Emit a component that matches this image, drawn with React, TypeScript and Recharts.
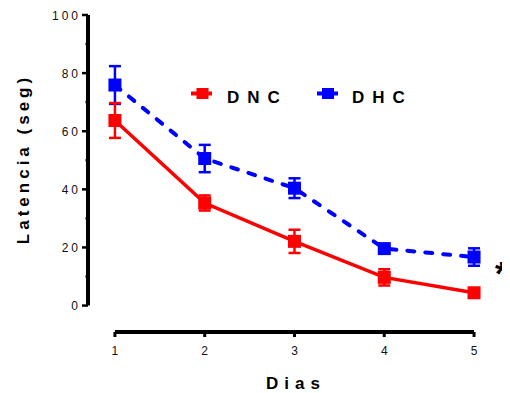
import { LineChart, Line, XAxis, YAxis, ErrorBar, ReferenceLine, Legend } from "recharts";

const days = [1, 2, 3, 4, 5];
const dnc = [63.7, 35.3, 22.1, 9.7, 4.4];
const dncErr = [6, 2.6, 4, 2.8, 0.8];
const dhc = [75.9, 50.6, 40.4, 19.6, 16.7];
const dhcErr = [6.5, 4.7, 3.4, 0.8, 3];
const yTicks = [0, 10, 20, 30, 40, 50, 60, 70, 80, 90, 100];

const data = days.map((d, i) => ({
  day: d,
  dnc: dnc[i],
  dncErr: dncErr[i],
  dhc: dhc[i],
  dhcErr: dhcErr[i],
}));

const FONT = "'Liberation Sans', Arial, sans-serif";
const RED = "#ff0000";
const BLUE = "#0000ff";

const square = (color: string) => (p: any) => (
  <rect
    key={`sq-${color}-${p.index}`}
    x={p.cx - 6.5}
    y={p.cy - 6.5}
    width={13}
    height={13}
    fill={color}
  />
);

function YTick({ x, y, payload }: any) {
  const major = payload.value % 20 === 0;
  return (
    <g>
      <line x1={x - (major ? 6 : 2.5)} x2={x} y1={y} y2={y} stroke="#000" strokeWidth={2.5} />
      {major && (
        <text x={x - 7} y={y} dy={4.5} textAnchor="end" fontSize={12} letterSpacing={3} fill="#111" fontFamily={FONT}>
          {payload.value}
        </text>
      )}
    </g>
  );
}

function XTick({ x, y, payload }: any) {
  return (
    <g>
      <line x1={x} x2={x} y1={y} y2={y + 5} stroke="#000" strokeWidth={3} />
      <text x={x} y={y + 23} textAnchor="middle" fontSize={12} fill="#111" fontFamily={FONT}>
        {payload.value}
      </text>
    </g>
  );
}

function YLabel() {
  return (
    <text
      x={15}
      y={151}
      transform="rotate(-90, 15, 151)"
      textAnchor="middle"
      dominantBaseline="central"
      fontSize={17}
      fontWeight="bold"
      letterSpacing={4}
      fill="#000"
      fontFamily={FONT}
    >
      Latencia (seg)
    </text>
  );
}

function XLabel() {
  return (
    <text x={288} y={381} textAnchor="middle" fontSize={17} fontWeight="bold" letterSpacing={6} fill="#000" fontFamily={FONT}>
      Dias
    </text>
  );
}

function LegendBox() {
  return (
    <svg width={240} height={30}>
      <line x1={1} x2={22} y1={13.5} y2={13.5} stroke={RED} strokeWidth={4} />
      <rect x={6.5} y={8} width={12} height={11} fill={RED} />
      <text x={37} y={22.7} fontSize={17} fontWeight="bold" letterSpacing={8} fill="#000" fontFamily={FONT}>
        DNC
      </text>
      <line x1={127} x2={148} y1={13.5} y2={13.5} stroke={BLUE} strokeWidth={4} />
      <rect x={132} y={8} width={12} height={11} fill={BLUE} />
      <text x={162} y={22.7} fontSize={17} fontWeight="bold" letterSpacing={8} fill="#000" fontFamily={FONT}>
        DHC
      </text>
    </svg>
  );
}

export default function App() {
  return (
    <div style={{ position: "relative", width: 502, height: 385 }}>
      <LineChart width={502} height={385} data={data} margin={{ top: 7, right: 18, bottom: 0, left: 0 }}>
        <XAxis
          type="number"
          dataKey="day"
          domain={[0.7, 5.2]}
          ticks={days}
          axisLine={false}
          tickLine={false}
          tickSize={0}
          tickMargin={0}
          height={61}
          tick={<XTick />}
          label={<XLabel />}
        />
        <YAxis
          type="number"
          domain={[-9.1, 100]}
          ticks={yTicks}
          interval={0}
          axisLine={false}
          tickLine={false}
          tickSize={0}
          tickMargin={0}
          width={80}
          tick={<YTick />}
          label={<YLabel />}
        />
        <ReferenceLine
          segment={[{ x: 0.7, y: 0 }, { x: 0.7, y: 100 }]}
          stroke="#000"
          strokeWidth={4}
          ifOverflow="visible"
        />
        <ReferenceLine
          segment={[{ x: 1, y: -9.1 }, { x: 5, y: -9.1 }]}
          stroke="#000"
          strokeWidth={4}
          ifOverflow="visible"
        />
        <Legend
          layout="horizontal"
          verticalAlign="middle"
          align="center"
          content={<LegendBox />}
          wrapperStyle={{ position: "absolute", top: 72, left: 182, width: 240, height: 30 }}
        />
        <Line
          dataKey="dhc"
          stroke={BLUE}
          strokeWidth={4}
          strokeDasharray="7 11"
          strokeLinecap="round"
          dot={square(BLUE)}
          activeDot={false}
          isAnimationActive={false}
        >
          <ErrorBar dataKey="dhcErr" width={6} stroke={BLUE} strokeWidth={2.5} direction="y" />
        </Line>
        <Line
          dataKey="dnc"
          stroke={RED}
          strokeWidth={3.5}
          dot={square(RED)}
          activeDot={false}
          isAnimationActive={false}
        >
          <ErrorBar dataKey="dncErr" width={6} stroke={RED} strokeWidth={2.5} direction="y" />
        </Line>
      </LineChart>
      <svg width={502} height={385} style={{ position: "absolute", left: 0, top: 0, pointerEvents: "none" }}>
        <text x={487} y={277} fontSize={34} fontWeight="bold" fill="#000" fontFamily={FONT}>
          *
        </text>
      </svg>
    </div>
  );
}
